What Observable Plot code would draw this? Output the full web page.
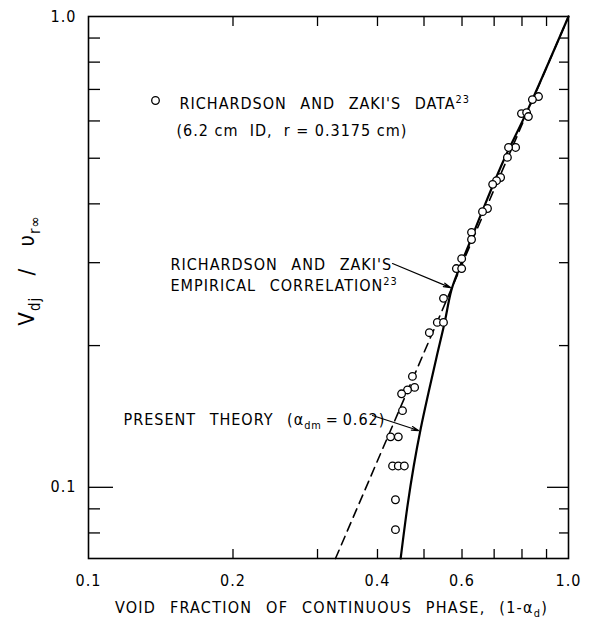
<!DOCTYPE html>
<html>
<head>
<meta charset="utf-8">
<script src="https://cdn.jsdelivr.net/npm/d3@7"></script>
<script src="https://cdn.jsdelivr.net/npm/@observablehq/plot@0.6"></script>
<style>
  html, body { margin: 0; padding: 0; background: #fff; }
  #chart svg {
    font-family: "DejaVu Sans Condensed", "DejaVu Sans", sans-serif;
    font-size: 16px;
    letter-spacing: 1px;
    word-spacing: 8px;
    color: #000;
    background: #fff;
  }
</style>
</head>
<body>
<div id="chart"></div>
<script>
// ---- Data (log-log axes) ----
// Richardson & Zaki's data (circles): void fraction (1-alpha_d) and V_dj / v_r_inf
const dataX = [0.866, 0.841, 0.798, 0.818, 0.825, 0.776, 0.750, 0.746, 0.722, 0.708, 0.695,
               0.678, 0.662, 0.628, 0.628, 0.599, 0.584, 0.599, 0.549, 0.533, 0.549, 0.513,
               0.473, 0.478, 0.462, 0.449, 0.451, 0.426, 0.442, 0.430, 0.442, 0.455, 0.436, 0.436];
const dataY = [0.676, 0.666, 0.622, 0.625, 0.613, 0.527, 0.527, 0.502, 0.455, 0.448, 0.440,
               0.391, 0.385, 0.348, 0.336, 0.306, 0.2915, 0.2915, 0.252, 0.224, 0.224, 0.213,
               0.172, 0.163, 0.161, 0.158, 0.1455, 0.128, 0.128, 0.111, 0.111, 0.111, 0.0941, 0.0813];

// Present theory (solid curve)
const theoryX = [0.447, 0.462, 0.476, 0.492, 0.511, 0.531, 0.552, 0.570, 0.590, 0.625, 0.662, 0.732, 0.821, 1.0];
const theoryY = [0.0706, 0.0914, 0.111, 0.133, 0.159, 0.189, 0.224, 0.262, 0.289, 0.334, 0.387, 0.494, 0.631, 1.0];

// Richardson & Zaki's empirical correlation (dashed straight line on log-log)
const rzX = [0.327, 1.0];
const rzY = [0.0706, 1.0];

// Axes
const xDomain = [0.1, 1.0];
const yDomain = [0.0706, 1.0];
const xTickLabels = [0.1, 0.2, 0.4, 0.6, 0.8, 1.0];
const xMinorTicks = [0.2, 0.3, 0.4, 0.5, 0.6, 0.7, 0.8, 0.9];
const yTickLabels = [0.1, 1.0];
const yMajorTicks = [0.1];
const yMinorTicks = [0.08, 0.09, 0.2, 0.3, 0.4, 0.5, 0.6, 0.7, 0.8, 0.9];

// Texts
const xTitle = "VOID FRACTION OF CONTINUOUS PHASE, (1-α_{d})";
const yTitle = "V_{dj} / υ_{r∞}";
const legendLine1 = "RICHARDSON AND ZAKI'S DATA^{23}";
const legendLine2 = "(6.2 cm  ID,  r = 0.3175 cm)";
const rzLine1 = "RICHARDSON AND ZAKI'S";
const rzLine2 = "EMPIRICAL CORRELATION^{23}";
const theoryLabel = "PRESENT THEORY (α_{dm}\u2009=\u20090.62)";

const points = dataX.map((x, i) => ({x, y: dataY[i]}));
const theory = theoryX.map((x, i) => ({x, y: theoryY[i]}));
const rz = rzX.map((x, i) => ({x, y: rzY[i]}));
const fmt = d3.format(".1f");

const noText = {fill: "none", label: null};
const ann = (t, dx, dy, extra = {}) =>
  Plot.text([t], {frameAnchor: "top-left", dx, dy, textAnchor: "start", lineAnchor: "middle", text: d => d, ...extra});

const chart = Plot.plot({
  width: 590,
  height: 622,
  marginLeft: 88,
  marginRight: 22,
  marginTop: 16,
  marginBottom: 64,
  x: {type: "log", domain: xDomain},
  y: {type: "log", domain: yDomain},
  marks: [
    // axis labels
    Plot.axisX(xTickLabels, {anchor: "bottom", tickSize: 0, tickPadding: 16, tickFormat: fmt, label: null, fontSize: 16}),
    Plot.axisY(yTickLabels, {anchor: "left", tickSize: 0, tickPadding: 12, tickFormat: fmt, label: null, fontSize: 16}),
    // inward ticks
    Plot.axisX(xMinorTicks, {anchor: "bottom", tickSize: -9, strokeWidth: 1.3, ...noText}),
    Plot.axisX(xMinorTicks, {anchor: "top", tickSize: -9, strokeWidth: 1.3, ...noText}),
    Plot.axisY(yMinorTicks, {anchor: "left", tickSize: -12, strokeWidth: 1.3, ...noText}),
    Plot.axisY(yMinorTicks, {anchor: "right", tickSize: -10, strokeWidth: 1.3, ...noText}),
    Plot.axisY(yMajorTicks, {anchor: "left", tickSize: -25, strokeWidth: 1.3, ...noText}),
    Plot.axisY(yMajorTicks, {anchor: "right", tickSize: -22, strokeWidth: 1.3, ...noText}),
    Plot.frame({stroke: "black", strokeWidth: 1.6}),
    // correlation (dashed) and theory (solid)
    Plot.line(rz, {x: "x", y: "y", stroke: "black", strokeWidth: 1.6, strokeDasharray: "9,6"}),
    Plot.line(theory, {x: "x", y: "y", stroke: "black", strokeWidth: 2.2, curve: "catmull-rom"}),
    // data
    Plot.dot(points, {x: "x", y: "y", r: 3.8, stroke: "black", strokeWidth: 1.3, fill: "white"}),
    // legend
    Plot.dot([0], {frameAnchor: "top-left", dx: 155 - 88, dy: 100 - 16, r: 3.8, stroke: "black", strokeWidth: 1.3, fill: "white"}),
    ann(legendLine1, 179 - 88, 103 - 16),
    ann(legendLine2, 176 - 88, 130 - 16),
    // annotations
    ann(rzLine1, 170 - 88, 264 - 16),
    ann(rzLine2, 170 - 88, 285 - 16),
    ann(theoryLabel, 123 - 88, 419 - 16),
    Plot.arrow([{x1: 0.4299, y1: 0.2987, x2: 0.5677, y2: 0.2656}],
      {x1: "x1", y1: "y1", x2: "x2", y2: "y2", stroke: "black", strokeWidth: 1.2, headLength: 9, headAngle: 30}),
    Plot.arrow([{x1: 0.3906, y1: 0.1421, x2: 0.4870, y2: 0.1320}],
      {x1: "x1", y1: "y1", x2: "x2", y2: "y2", stroke: "black", strokeWidth: 1.2, headLength: 9, headAngle: 30}),
    // axis titles
    Plot.text([xTitle], {frameAnchor: "bottom", dx: 331 - 328, dy: 607 - 558, textAnchor: "middle", lineAnchor: "middle", text: d => d}),
    Plot.text([yTitle], {frameAnchor: "left", dx: 26 - 88, dy: 270 - 287, rotate: -90, textAnchor: "middle", lineAnchor: "middle", text: d => d, fontSize: 22})
  ]
});

// Render _{sub} and ^{sup} markup as real tspans
function richify(svg) {
  d3.select(svg).selectAll("text").each(function () {
    const t = this.textContent;
    if (!/[_^]\{/.test(t)) return;
    const el = d3.select(this);
    const fs = parseFloat(getComputedStyle(this).fontSize) || 16;
    el.text(null);
    const re = /([_^])\{([^}]*)\}/g;
    const parts = [];
    let last = 0, m;
    while ((m = re.exec(t))) {
      if (m.index > last) parts.push({s: t.slice(last, m.index), k: 0});
      parts.push({s: m[2], k: m[1] === "_" ? 1 : -1});
      last = re.lastIndex;
    }
    if (last < t.length) parts.push({s: t.slice(last), k: 0});
    let cur = 0;
    for (const p of parts) {
      const target = p.k === 1 ? fs * 0.3 : p.k === -1 ? -fs * 0.35 : 0;
      const ts = el.append("tspan").text(p.s);
      if (target - cur) ts.attr("dy", target - cur);
      if (p.k) ts.style("font-size", (fs * 0.68) + "px");
      cur = target;
    }
  });
}

document.getElementById("chart").append(chart);
richify(chart);
// per-text spacing tweaks
d3.select(chart).selectAll("text").each(function () {
  const t = this.textContent;
  if (t.startsWith("(6.2")) this.style.wordSpacing = "0px";
  if (t.startsWith("VOID")) this.style.letterSpacing = "1.25px";
  if (t.startsWith("V") && t.includes("/")) this.style.wordSpacing = "14px";
});
</script>
</body>
</html>
